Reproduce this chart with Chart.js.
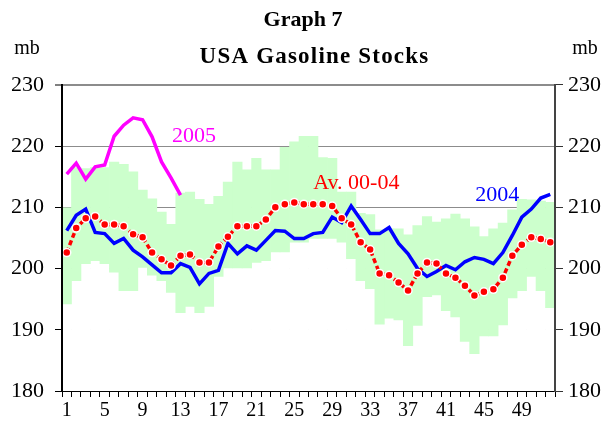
<!DOCTYPE html>
<html>
<head>
<meta charset="utf-8">
<script src="https://cdn.jsdelivr.net/npm/chart.js@4.4.0/dist/chart.umd.min.js"></script>
<style>
html, body { margin: 0; padding: 0; background: #fff; }
</style>
</head>
<body>
<canvas id="chart" width="611" height="437"></canvas>
<script>
// weeks 1..52
var weeks = [];
for (var w = 1; w <= 52; w++) weeks.push(String(w));

// range 2000-04 (min / max), mb
var bandLow = [194.2, 198.0, 200.8, 201.3, 200.8, 199.4, 196.4, 196.4, 200.2, 198.9,
               198.0, 196.1, 192.8, 193.8, 192.8, 193.8, 198.7, 200.1, 200.1, 200.1,
               201.0, 201.3, 202.7, 202.7, 204.3, 204.3, 204.9, 204.9, 204.9, 204.3,
               201.6, 198.0, 196.7, 190.9, 191.9, 191.6, 187.4, 190.7, 195.4, 195.7,
               193.1, 192.1, 188.1, 186.1, 189.0, 189.0, 190.8, 195.2, 196.4, 198.7,
               196.4, 193.6];
var bandHigh = [209.9, 216.5, 216.3, 216.5, 216.5, 217.4, 217.0, 215.8, 212.8, 211.4,
                209.2, 207.2, 212.3, 212.5, 211.3, 210.5, 211.8, 214.1, 217.4, 216.1,
                218.0, 216.1, 216.1, 219.8, 220.7, 221.6, 221.6, 218.1, 218.0, 212.5,
                212.5, 209.0, 208.8, 206.3, 206.5, 206.5, 205.5, 207.0, 208.5, 207.6,
                208.1, 208.9, 208.1, 206.8, 205.2, 206.5, 207.4, 209.6, 211.3, 211.2,
                211.0, 210.8];

var avg0004 = [202.6, 206.6, 208.2, 208.5, 207.2, 207.2, 206.9, 205.6, 205.1, 202.6,
               201.5, 200.5, 202.1, 202.3, 201.0, 201.0, 203.6, 205.2, 206.9, 206.9,
               206.9, 208.0, 210.0, 210.5, 210.8, 210.5, 210.5, 210.5, 210.2, 208.2,
               207.2, 204.3, 203.1, 199.2, 198.9, 197.7, 196.4, 199.2, 201.0, 200.8,
               199.2, 198.5, 197.2, 195.6, 196.2, 196.6, 198.5, 202.1, 203.9, 205.1,
               204.8, 204.3];

var y2004 = [206.2, 208.7, 209.7, 205.9, 205.7, 204.1, 204.9, 203.0, 201.9, 200.6,
             199.3, 199.3, 200.8, 200.2, 197.5, 199.2, 199.7, 204.1, 202.4, 203.7,
             203.0, 204.6, 206.2, 206.1, 204.9, 204.9, 205.7, 205.9, 208.4, 207.5,
             210.2, 208.0, 205.7, 205.7, 206.7, 204.1, 202.4, 200.0, 198.7, 199.5,
             200.5, 199.8, 201.1, 201.8, 201.5, 200.8, 202.6, 205.4, 208.4, 209.7,
             211.5, 212.1];

var y2005 = [215.4, 217.2, 214.6, 216.6, 216.9, 221.6, 223.4, 224.6, 224.3, 221.5,
             217.4, 214.8, 212.0];

var yTicks = [180, 190, 200, 210, 220, 230];

// series labels drawn inside the plot, anchored in data space (week index, value)
var notes = [
  { text: '2005', at: 11.1, value: 221.6, color: '#ff00ff' },
  { text: 'Av. 00-04', at: 26.0, value: 213.9, color: '#ff0000' },
  { text: '2004', at: 43.1, value: 212.0, color: '#0000ff' }
];

var serif = "'Liberation Serif', 'Times New Roman', serif";

var textPlugin = {
  id: 'texts',
  afterDraw: function (chart) {
    var ctx = chart.ctx;
    var xs = chart.scales.x, ys = chart.scales.y;
    var a = chart.chartArea;
    ctx.save();
    ctx.textBaseline = 'middle';
    ctx.textAlign = 'left';
    ctx.font = '22px ' + serif;
    notes.forEach(function (n) {
      ctx.fillStyle = n.color;
      ctx.fillText(n.text, xs.getPixelForValue(n.at), ys.getPixelForValue(n.value));
    });
    ctx.fillStyle = '#000';
    // second title line, a little wider like the original
    ctx.textAlign = 'center';
    ctx.font = 'bold 23px ' + serif;
    if ('letterSpacing' in ctx) ctx.letterSpacing = '1.2px';
    ctx.fillText('USA Gasoline Stocks', chart.width / 2 + 9, a.top - 28);
    if ('letterSpacing' in ctx) ctx.letterSpacing = '0px';
    // "mb" units above both value axes
    ctx.font = '20px ' + serif;
    ctx.fillText('mb', a.left - 35, a.top - 36);
    ctx.fillText('mb', a.right + 30, a.top - 36);
    ctx.restore();
  }
};

new Chart(document.getElementById('chart'), {
  data: {
    labels: weeks,
    datasets: [
      {
        type: 'line', label: 'Av. 00-04', data: avg0004, order: 0,
        borderColor: '#ff0000', borderWidth: 3.5, borderDash: [5, 3],
        pointRadius: 4, pointBackgroundColor: '#ff0000',
        pointBorderColor: '#ffffff', pointBorderWidth: 1.5,
        tension: 0, yAxisID: 'y'
      },
      {
        type: 'line', label: '2004', data: y2004, order: 1,
        borderColor: '#0000ff', borderWidth: 3.5, pointRadius: 0,
        tension: 0, yAxisID: 'y'
      },
      {
        type: 'line', label: '2005', data: y2005, order: 2,
        borderColor: '#ff00ff', borderWidth: 3.5, pointRadius: 0,
        tension: 0, yAxisID: 'y'
      },
      {
        type: 'bar', label: 'range', order: 3,
        data: bandLow.map(function (lo, i) { return [lo, bandHigh[i]]; }),
        backgroundColor: '#ccffcc', borderWidth: 0,
        barPercentage: 1, categoryPercentage: 1, grouped: false, yAxisID: 'y'
      },
      {
        // white base hides the gridlines below the band, as in the original
        type: 'bar', label: 'base', order: 4,
        data: bandLow.map(function (lo) { return [180, lo]; }),
        backgroundColor: '#ffffff', borderWidth: 0,
        barPercentage: 1, categoryPercentage: 1, grouped: false, yAxisID: 'y'
      }
    ]
  },
  options: {
    responsive: false,
    animation: false,
    events: [],
    layout: { padding: { left: 0, right: 5, top: 0, bottom: 12 } },
    plugins: {
      legend: { display: false },
      tooltip: { enabled: false },
      title: {
        display: true,
        text: ['Graph 7', ''],
        color: '#000',
        font: { family: serif, size: 22, weight: 'bold', lineHeight: 1.7 },
        padding: { top: 2, bottom: 8 }
      }
    },
    scales: {
      x: {
        type: 'category',
        offset: true,
        grid: { offset: true, drawOnChartArea: false, drawTicks: true, tickLength: 6, color: '#000', z: 1 },
        border: { display: true, color: '#000', width: 1, z: 1 },
        ticks: {
          autoSkip: false, maxRotation: 0, minRotation: 0, padding: 2,
          color: '#000', font: { family: serif, size: 20 },
          callback: function (v, i) { return i % 4 === 0 ? weeks[i] : ''; }
        }
      },
      y: {
        position: 'left', min: 180, max: 230,
        afterBuildTicks: function (s) { s.ticks = yTicks.map(function (v) { return { value: v }; }); },
        grid: {
          drawOnChartArea: true, tickLength: 7, tickColor: '#000', tickWidth: 1,
          lineWidth: function (c) { return c.tick && c.tick.value === 230 ? 2 : 1; },
          color: function (c) { return c.tick && c.tick.value === 180 ? 'rgba(0,0,0,0)' : '#8c8c8c'; }
        },
        border: { display: true, color: '#000', width: 2, z: 1 },
        ticks: { padding: 11, color: '#000', font: { family: serif, size: 22 } }
      },
      y2: {
        position: 'right', min: 180, max: 230,
        afterBuildTicks: function (s) { s.ticks = yTicks.map(function (v) { return { value: v }; }); },
        grid: { drawOnChartArea: false, tickLength: 8, color: '#333', z: 1 },
        border: { display: true, color: '#444', width: 2, z: 1 },
        ticks: { padding: 5, color: '#000', font: { family: serif, size: 22 } }
      }
    }
  },
  plugins: [textPlugin]
});
</script>
</body>
</html>
